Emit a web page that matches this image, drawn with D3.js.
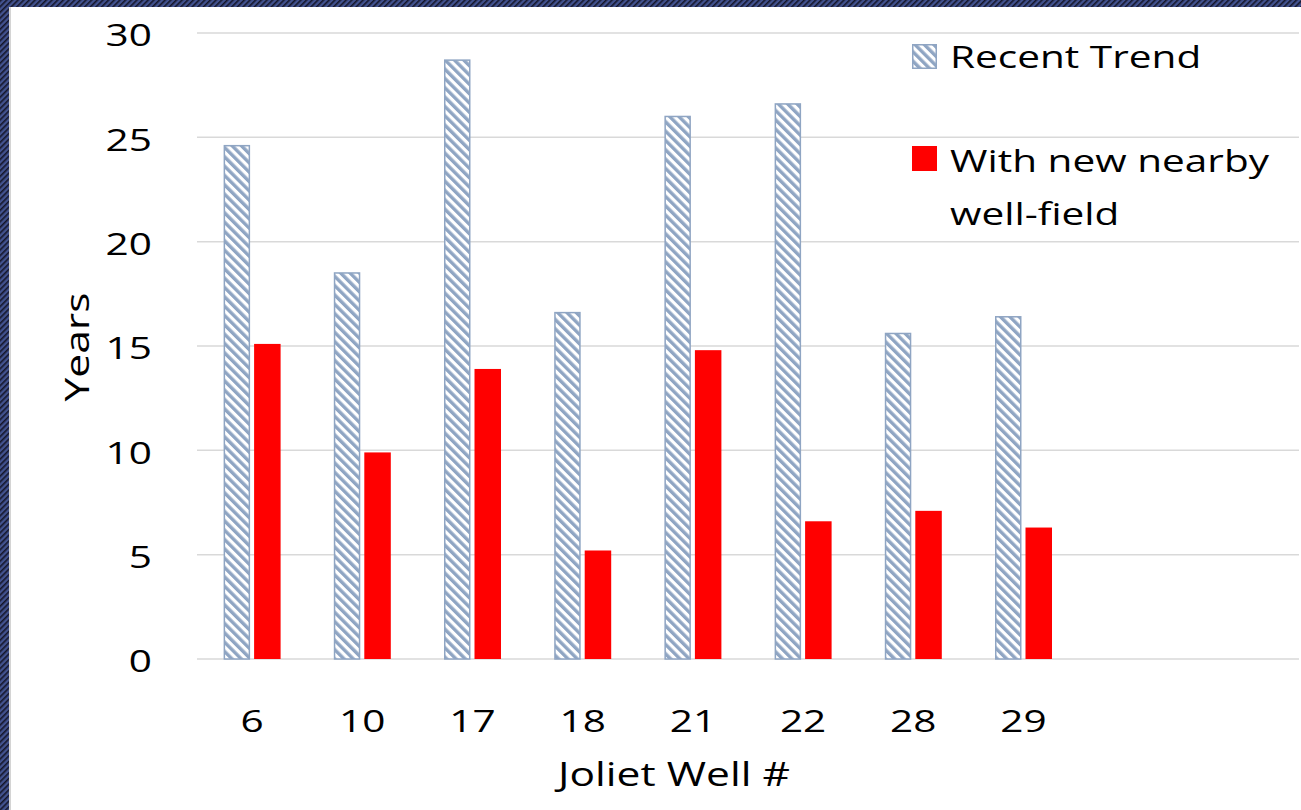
<!DOCTYPE html>
<html>
<head>
<meta charset="utf-8">
<script src="https://cdn.jsdelivr.net/npm/d3@7/dist/d3.min.js"></script>
<style>
  html, body { margin: 0; padding: 0; background: #fff; }
  svg { display: block; }
  text { font-family: "Open Sans", sans-serif; fill: #000; }
</style>
</head>
<body>
<svg id="chart" width="1301" height="810"></svg>
<script>
// Joliet wells: years remaining under two pumping scenarios
const wells = ["6", "10", "17", "18", "21", "22", "28", "29"];
const recentTrend = [24.6, 18.5, 28.7, 16.6, 26.0, 26.6, 15.6, 16.4];
const withNewField = [15.1, 9.9, 13.9, 5.2, 14.8, 6.6, 7.1, 6.3];
const yTicks = [0, 5, 10, 15, 20, 25, 30];
const seriesNames = ["Recent Trend", "With new nearby", "well-field"];

const W = 1301, H = 810;
const fontSize = 30.5;
const stretch = 1.33;   // wide lettering used across the slide

const svg = d3.select("#chart");
const defs = svg.append("defs");

// Slide frame hatch
const frame = defs.append("pattern")
  .attr("id", "frameHatch").attr("patternUnits", "userSpaceOnUse")
  .attr("width", 4).attr("height", 4)
  .attr("patternTransform", "rotate(45)");
frame.append("rect").attr("width", 4).attr("height", 4).attr("fill", "#42528f");
frame.append("rect").attr("width", 1.6).attr("height", 4).attr("fill", "#15162a");

// Diagonal hatch used for the "Recent Trend" series
const hatchColor = "#8fa5c3";
const hatch = defs.append("pattern")
  .attr("id", "barHatch").attr("patternUnits", "userSpaceOnUse")
  .attr("width", 6.6).attr("height", 6.6)
  .attr("patternTransform", "rotate(-45)");
hatch.append("rect").attr("width", 6.6).attr("height", 6.6).attr("fill", "#fff");
hatch.append("rect").attr("width", 3.4).attr("height", 6.6).attr("fill", hatchColor);

svg.append("rect").attr("width", W).attr("height", H).attr("fill", "url(#frameHatch)");
svg.append("rect").attr("x", 9).attr("y", 7).attr("width", 3).attr("height", H - 7).attr("fill", "#d4d4d4");
svg.append("rect").attr("x", 11).attr("y", 7).attr("width", W - 11).attr("height", H - 7).attr("fill", "#fff");

// Plot area
const plotLeft = 197, plotRight = 1299, plotTop = 33, plotBottom = 659;
const slotCount = 10;   // axis reserves room for ten wells
const bandW = (plotRight - plotLeft) / slotCount;

const x = d3.scaleBand().domain(wells)
  .range([plotLeft, plotLeft + bandW * wells.length]).paddingInner(0).paddingOuter(0);
const y = d3.scaleLinear().domain([0, 30]).range([plotBottom, plotTop]);

// Gridlines
svg.append("g").selectAll("line").data(yTicks).join("line")
  .attr("x1", plotLeft).attr("x2", plotRight)
  .attr("y1", d => y(d)).attr("y2", d => y(d))
  .attr("stroke", "#d9d9d9").attr("stroke-width", 1.5);

// Y tick labels
const yAxis = d3.axisLeft(y).tickValues(yTicks).tickSize(0).tickPadding(0);
const gy = svg.append("g").attr("transform", `translate(${152},0)`).call(yAxis);
gy.select(".domain").remove();
gy.selectAll("text")
  .attr("font-family", "Open Sans").attr("font-size", fontSize)
  .attr("x", 0).attr("dy", "0.42em")
  .attr("transform", `scale(${stretch},1)`)
  .attr("fill", "#000");

// X tick labels
const xAxis = d3.axisBottom(x).tickSize(0).tickPadding(0);
const gx = svg.append("g").attr("transform", `translate(0,${732})`).call(xAxis);
gx.select(".domain").remove();
gx.selectAll("text")
  .attr("font-family", "Open Sans").attr("font-size", fontSize)
  .attr("y", 0).attr("dy", 0)
  .attr("transform", `scale(${stretch},1)`)
  .attr("fill", "#000");

// Bars
const barW = 26.5, gap = 4;
const groupOff = (bandW - (2 * barW + gap)) / 2;

svg.append("g").selectAll("rect").data(wells).join("rect")
  .attr("x", (d) => x(d) + groupOff + 0.75)
  .attr("y", (d, i) => y(recentTrend[i]))
  .attr("width", barW - 1.5)
  .attr("height", (d, i) => y(0) - y(recentTrend[i]))
  .attr("fill", "url(#barHatch)")
  .attr("stroke", hatchColor).attr("stroke-width", 1.5);

svg.append("g").selectAll("rect").data(wells).join("rect")
  .attr("x", (d) => x(d) + groupOff + barW + gap)
  .attr("y", (d, i) => y(withNewField[i]))
  .attr("width", barW)
  .attr("height", (d, i) => y(0) - y(withNewField[i]))
  .attr("fill", "#ff0000");

// Wide text helper: place at (tx, ty), optional rotation, stretched along its run
function label(tx, ty, str, anchor, rot, size) {
  return svg.append("text")
    .attr("transform", `translate(${tx},${ty}) rotate(${rot || 0}) scale(${stretch},1)`)
    .attr("text-anchor", anchor || "start")
    .attr("font-size", size || fontSize)
    .text(str);
}

// Axis titles
label(674, 786, "Joliet Well #", "middle", 0, 32);
label(89, 347, "Years", "middle", -90, 32);

// Legend
svg.append("rect").attr("x", 912.75).attr("y", 44.75).attr("width", 23.5).attr("height", 23.5)
  .attr("fill", "url(#barHatch)").attr("stroke", hatchColor).attr("stroke-width", 1.5);
label(950, 68, seriesNames[0]);

svg.append("rect").attr("x", 912).attr("y", 146).attr("width", 25).attr("height", 25)
  .attr("fill", "#ff0000");
label(950, 172, seriesNames[1]);
label(950, 225, seriesNames[2]);
</script>
</body>
</html>
